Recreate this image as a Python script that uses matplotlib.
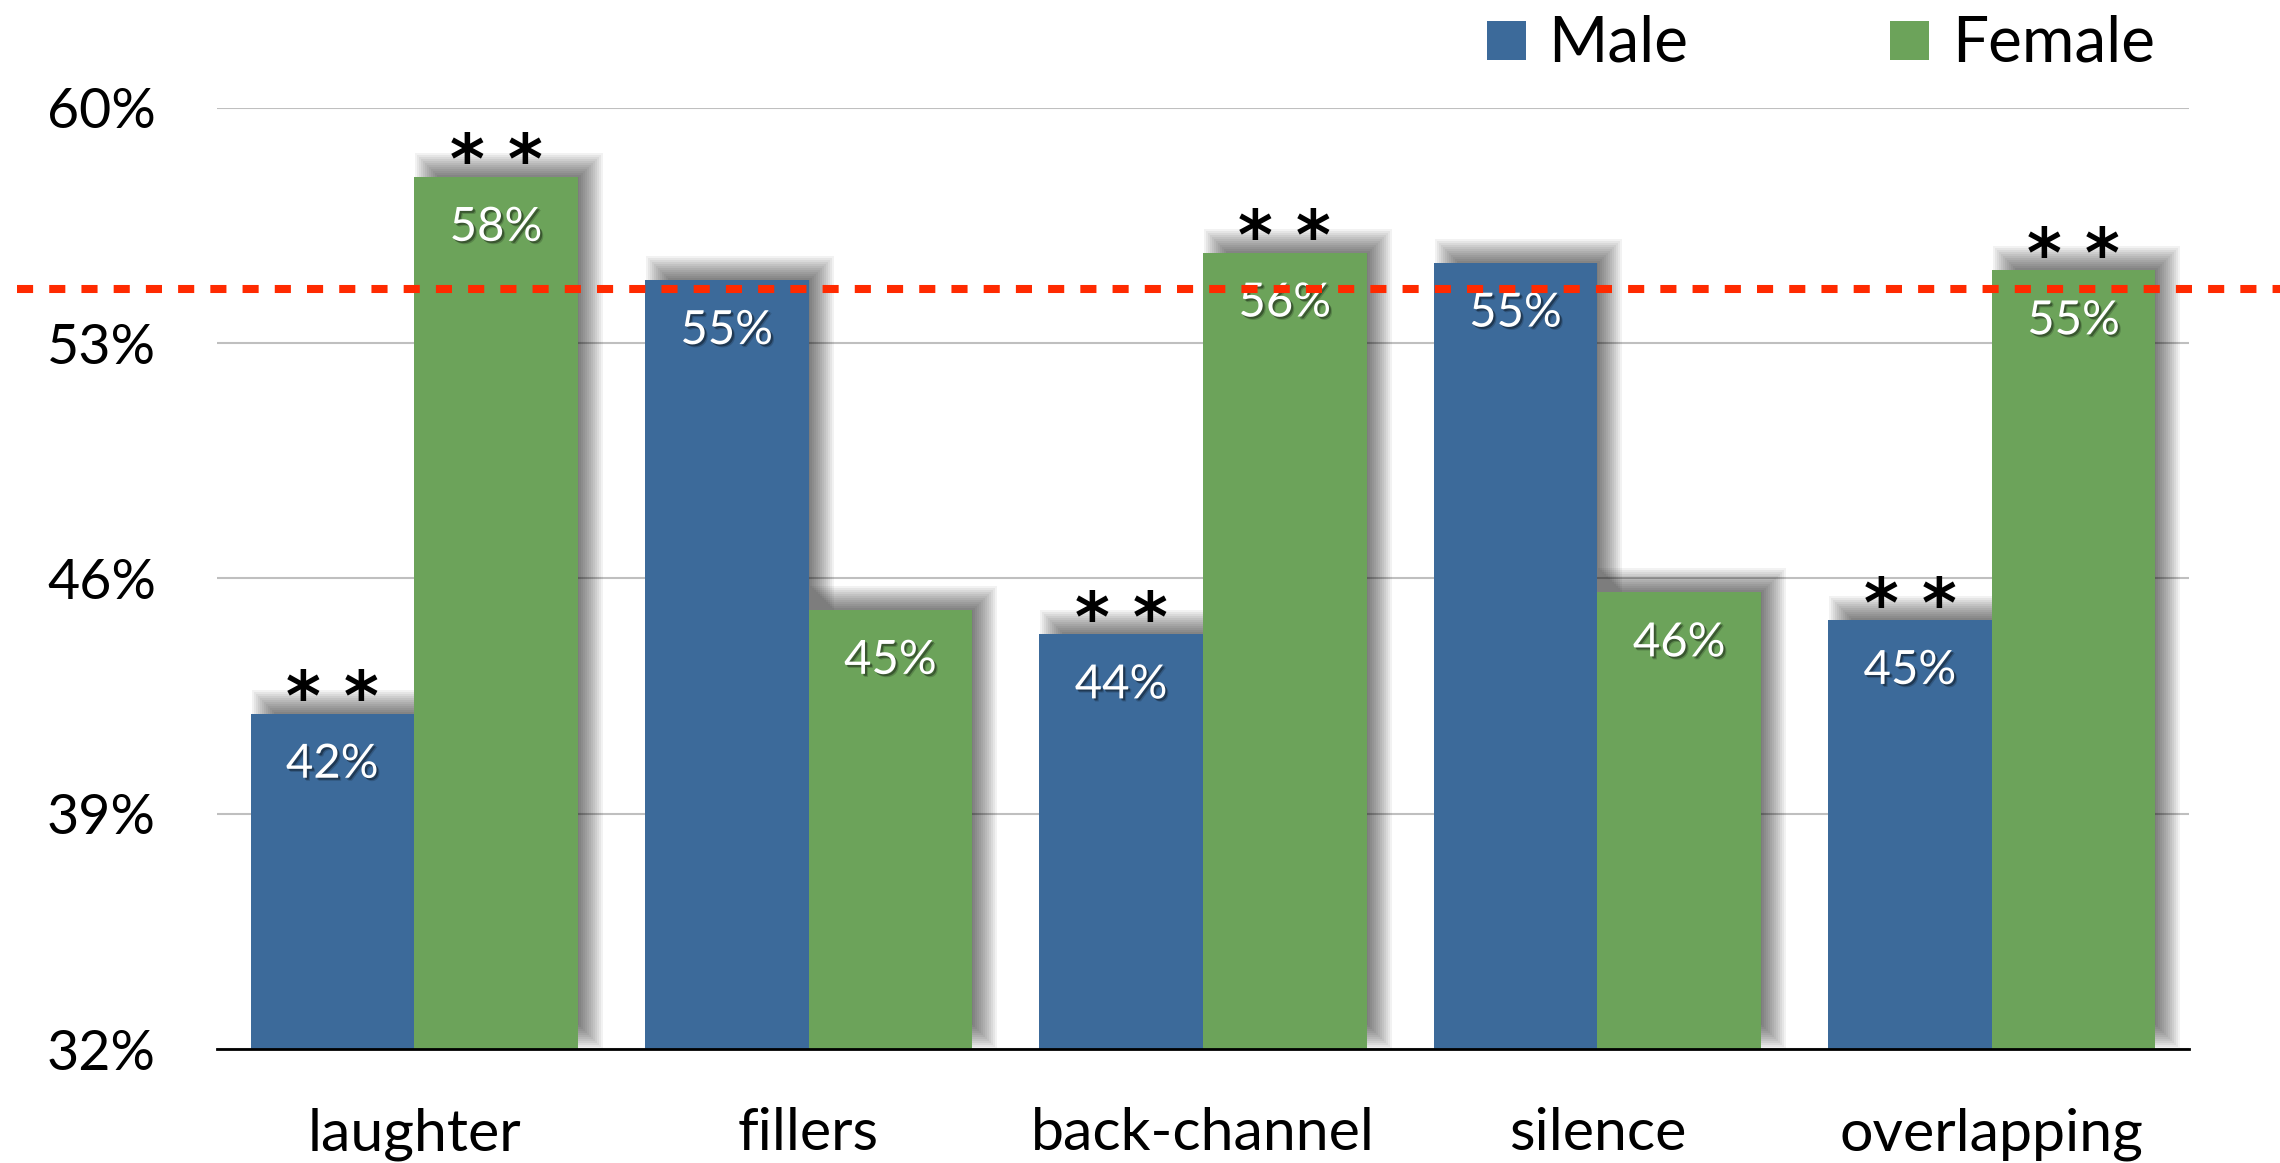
import matplotlib
matplotlib.use("Agg")
import matplotlib.pyplot as plt
from matplotlib.patches import Rectangle
import matplotlib.patheffects as pe
from matplotlib.textpath import TextPath
from matplotlib.font_manager import FontProperties
from matplotlib.ticker import FixedLocator, FuncFormatter

plt.rcParams['font.family'] = ['Lato', 'DejaVu Sans']

# ---- data ----
categories = ["laughter", "fillers", "back-channel", "silence", "overlapping"]
series_names = ["Male", "Female"]
male = [41.97, 54.87, 44.33, 55.39, 44.76]
female = [57.94, 45.06, 55.69, 45.58, 55.16]
male_sig = [True, False, True, False, True]
female_sig = [True, False, True, False, True]
threshold = 54.6
y_ticks = [32, 39, 46, 53, 60]

series_values = [male, female]
series_sig = [male_sig, female_sig]
colors = ["#3C6A9A", "#6CA35A"]

# ---- figure / axes geometry (pixels) ----
W_PX, H_PX, DPI = 2280, 1163, 100
fig = plt.figure(figsize=(W_PX / DPI, H_PX / DPI), dpi=DPI)
ax_l, ax_r, ax_t, ax_b = 217, 2189, 107.7, 1049
ax = fig.add_axes([ax_l / W_PX, 1 - ax_b / H_PX, (ax_r - ax_l) / W_PX, (ax_b - ax_t) / H_PX])

xlim = (-0.5, len(categories) - 0.5)
ylim = (y_ticks[0], y_ticks[-1])
ax.set_xlim(*xlim)
ax.set_ylim(*ylim)

px_x = (xlim[1] - xlim[0]) / (ax_r - ax_l)
px_y = (ylim[1] - ylim[0]) / (ax_b - ax_t)

bar_w = 0.415
offsets = [-bar_w / 2, bar_w / 2]


def add_shadow(x0, width, top, z):
    """Soft drop shadow, shifted up and to the right."""
    dx, dy, r = 13, 12, 12
    for e in range(-r, r + 1, 2):
        rect = Rectangle(
            (x0 + (dx - e) * px_x, ylim[0] + (dy - e) * px_y),
            width + 2 * e * px_x,
            (top - ylim[0]) + 2 * e * px_y,
            facecolor="black", edgecolor="none", alpha=0.05, zorder=z,
        )
        ax.add_patch(rect)


label_fx = [
    pe.SimplePatchShadow(offset=(2.2, -2.2), shadow_rgbFace="black", alpha=0.18),
    pe.SimplePatchShadow(offset=(1.4, -1.4), shadow_rgbFace="black", alpha=0.35),
    pe.Normal(),
]

STAR_PT = 48
star_fp = FontProperties(family="DejaVu Sans", weight="bold", size=STAR_PT)
star_path = TextPath((0, 0), "*", prop=FontProperties(family="DejaVu Sans", weight="bold", size=1))
star_ink_bottom = star_path.get_extents().y0  # in em units
star_size_px = STAR_PT * DPI / 72.0
star_baseline_pt = (12 - star_ink_bottom * star_size_px) * 72.0 / DPI

for k, (vals, sig, col) in enumerate(zip(series_values, series_sig, colors)):
    xs = [i + offsets[k] for i in range(len(categories))]
    for x, v in zip(xs, vals):
        add_shadow(x - bar_w / 2, bar_w, v, 2 + 2 * k)
    ax.bar(xs, vals, width=bar_w, color=col, edgecolor="none", zorder=3 + 2 * k,
           label=series_names[k])
    for x, v, s in zip(xs, vals, sig):
        ax.annotate(f"{v:.0f}%", xy=(x, v), xytext=(0, -46), textcoords="offset points",
                    ha="center", va="baseline", color="white", fontsize=34,
                    zorder=20, path_effects=label_fx)
        if s:
            ax.annotate("* *", xy=(x, v), xytext=(0, star_baseline_pt),
                        textcoords="offset points", ha="center", va="baseline",
                        fontproperties=star_fp, color="black", zorder=21)

# threshold line reaching past the plot area
ax.axhline(threshold, xmin=(17 - ax_l) / (ax_r - ax_l), xmax=(W_PX - ax_l) / (ax_r - ax_l),
           color="#FF2A00", lw=5.8, dashes=(2, 2), dash_capstyle="butt",
           clip_on=False, zorder=30)

# axes styling
ax.yaxis.set_major_locator(FixedLocator(y_ticks))
ax.yaxis.set_major_formatter(FuncFormatter(lambda v, _: f"{v:.0f}%"))
ax.set_xticks(range(len(categories)))
ax.set_xticklabels(categories)
ax.tick_params(axis="y", length=0, pad=44, labelsize=40)
ax.tick_params(axis="x", length=0, pad=42, labelsize=42.5)
ax.grid(axis="y", color="#BFBFBF", lw=1.5)
ax.set_axisbelow(True)
for side in ("left", "right", "top"):
    ax.spines[side].set_visible(False)
ax.spines["bottom"].set_linewidth(2)
ax.spines["bottom"].set_zorder(25)

# legend across the top right
legend_items = [(1487, 1548), (1890, 1952)]
for (sq_x, tx_x), name, col in zip(legend_items, series_names, colors):
    fig.add_artist(Rectangle((sq_x / W_PX, 1 - 60 / H_PX), 39 / W_PX, 39 / H_PX,
                             transform=fig.transFigure, facecolor=col, edgecolor="none"))
    fig.text(tx_x / W_PX, 1 - 61 / H_PX, name, fontsize=46, ha="left", va="baseline")

fig.savefig("out.png", dpi=DPI, facecolor="white")
